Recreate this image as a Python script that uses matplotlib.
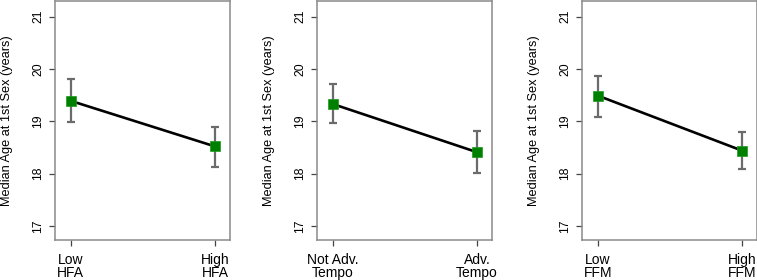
import matplotlib
matplotlib.use("Agg")
import matplotlib.pyplot as plt

plt.rcParams['font.family'] = ['Liberation Sans', 'DejaVu Sans']

ylabel = "Median Age at 1st Sex (years)"
yticks = [17, 18, 19, 20, 21]

labels_hfa = ["Low\nHFA", "High\nHFA"]
means_hfa = [19.39, 18.52]
upper_hfa = [19.80, 18.90]
lower_hfa = [18.99, 18.13]

labels_tempo = ["Not Adv.\nTempo", "Adv.\nTempo"]
means_tempo = [19.33, 18.41]
upper_tempo = [19.71, 18.82]
lower_tempo = [18.96, 18.01]

labels_ffm = ["Low\nFFM", "High\nFFM"]
means_ffm = [19.49, 18.44]
upper_ffm = [19.87, 18.80]
lower_ffm = [19.09, 18.08]

panels = [
    (labels_hfa, means_hfa, upper_hfa, lower_hfa),
    (labels_tempo, means_tempo, upper_tempo, lower_tempo),
    (labels_ffm, means_ffm, upper_ffm, lower_ffm),
]

fig = plt.figure(figsize=(7.57, 2.8), dpi=100)
W, H = 757, 280
lefts = [55, 317, 582]
width = 175
bottom_px = 240
top_px = 1

frame_col = '#8a8a8a'
for (labs, m, up, lo), lp in zip(panels, lefts):
    ax = fig.add_axes([lp / W, (H - bottom_px) / H, width / W, (bottom_px - top_px) / H])
    x = [1, 2]
    yerr = [[mi - l for mi, l in zip(m, lo)], [u - mi for mi, u in zip(m, up)]]
    ax.errorbar(x, m, yerr=yerr, fmt='none', ecolor='#6b6b6b', elinewidth=1.6,
                capsize=2.6, capthick=1.6, zorder=2)
    ax.plot(x, m, color='black', lw=1.9, zorder=3)
    ax.plot(x, m, ls='none', marker='s', ms=7.8, mfc='#008000', mec='#1a9a1a', mew=0.5, zorder=4)
    ax.set_xlim(0.89, 2.105)
    ax.set_ylim(16.73, 21.3)
    ax.set_yticks(yticks)
    ax.set_yticklabels([str(t) for t in yticks], rotation=90, va='center', fontsize=8.8)
    ax.set_xticks(x)
    ax.set_xticklabels(labs, fontsize=10.0, linespacing=0.85)
    ax.tick_params(axis='both', direction='out', length=4.3, width=0.9, color='#444444')
    ax.tick_params(axis='y', pad=3.6)
    ax.tick_params(axis='x', pad=5.2)
    for s in ax.spines.values():
        s.set_color(frame_col)
        s.set_linewidth(1.1)
    fig.text((lp - 48) / W, 1 - 120.5 / H, ylabel, rotation=90, ha='center', va='center',
             fontsize=9.15)

fig.savefig("out.png", dpi=100)
